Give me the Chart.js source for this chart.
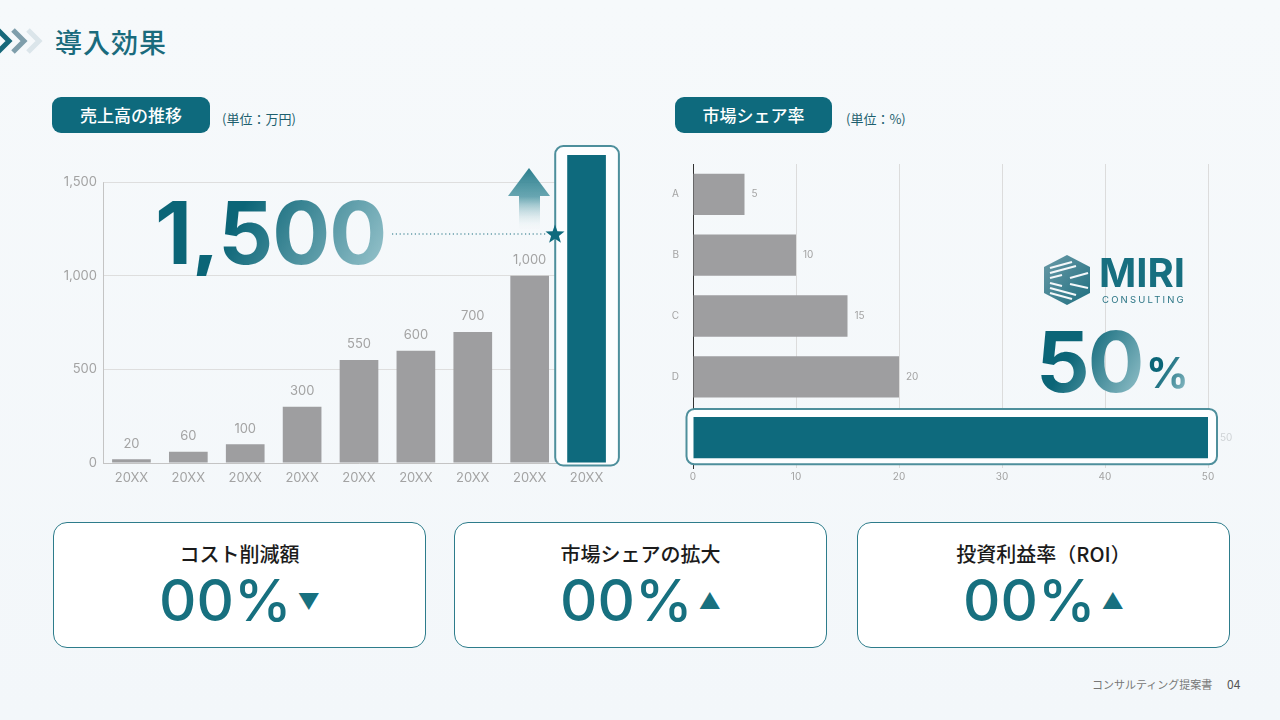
<!DOCTYPE html>
<html lang="ja">
<head>
<meta charset="utf-8">
<title>導入効果</title>
<script src="https://cdn.jsdelivr.net/npm/chart.js@4/dist/chart.umd.min.js"></script>
<style>
  html, body { margin: 0; padding: 0; }
  body {
    width: 1280px; height: 720px; position: relative; overflow: hidden;
    background: linear-gradient(180deg, #f6f9fb 0%, #f3f7fa 100%);
    font-family: "Noto Sans CJK JP", "Noto Sans", sans-serif;
  }
  .abs { position: absolute; }
  .title { left: 55px; top: 22px; font-size: 27px; font-weight: 500; color: #1a6b7d; letter-spacing: 1px; }
  .pill {
    height: 36px; line-height: 36px; border-radius: 9px; background: #0e6a7d;
    color: #fff; font-size: 17px; font-weight: 500; text-align: center;
  }
  .unit { font-size: 13px; color: #1d5f6e; }
  .big {
    font-family: Inter, "Noto Sans", sans-serif; font-weight: 700;
    background: linear-gradient(120deg, #0b6577 35%, #9cc7cf 100%);
    -webkit-background-clip: text; background-clip: text; color: transparent;
    line-height: 1;
  }
  .card {
    background: #fff; border: 1.5px solid #2d7c8b; border-radius: 14px;
    width: 373px; height: 126px; box-sizing: border-box; text-align: center;
  }
  .card .ct { margin-top: 16px; font-size: 20px; font-weight: 500; color: #1b1b1b; }
  .card .cv { font-family: Inter, "Noto Sans", sans-serif; font-size: 58px; font-weight: 500; color: #17707f; line-height: 64px; }
  .card .tri { font-size: 22px; vertical-align: 12px; margin-left: 6px; }
  .foot { font-size: 11px; color: #777; }
</style>
</head>
<body>

<svg class="abs" style="left:0;top:26px" width="46" height="30" viewBox="0 0 46 30">
  <polyline points="-2,4 9,15 -2,26" fill="none" stroke="#17687a" stroke-width="5"/>
  <polyline points="13,4 24,15 13,26" fill="none" stroke="#7f9eab" stroke-width="5"/>
  <polyline points="28,4 39,15 28,26" fill="none" stroke="#dbe5ea" stroke-width="5"/>
</svg>
<div class="abs title">導入効果</div>

<div class="abs pill" style="left:52px;top:97px;width:158px">売上高の推移</div>
<div class="abs unit" style="left:222px;top:109px">(単位：万円)</div>
<div class="abs pill" style="left:675px;top:97px;width:157px">市場シェア率</div>
<div class="abs unit" style="left:846px;top:109px">(単位：%)</div>

<canvas id="sales-chart" class="abs" width="575" height="364" style="left:55px;top:131px"></canvas>
<canvas id="share-chart" class="abs" width="580" height="340" style="left:655px;top:152px"></canvas>

<!-- decorations on the sales chart -->
<div class="abs big" style="left:155px;top:190px;font-size:86px;letter-spacing:-1px">1,500</div>
<svg class="abs" style="left:380px;top:160px" width="190" height="90">
  <defs>
    <linearGradient id="arrowGrad" x1="0" y1="0" x2="0" y2="1">
      <stop offset="0" stop-color="#2b7e8d"/>
      <stop offset="0.45" stop-color="#4f97a4" stop-opacity="0.85"/>
      <stop offset="1" stop-color="#ffffff" stop-opacity="0"/>
    </linearGradient>
  </defs>
  <polygon points="149,8 170,36 160,36 160,72 139,72 139,36 128,36" fill="url(#arrowGrad)"/>
  <line x1="12" y1="74" x2="166" y2="74" stroke="#1c6f80" stroke-width="1.2" stroke-dasharray="1.2 2.6"/>
  <polygon points="175,64.5 177.4,71.3 184.5,71.5 178.9,75.9 180.9,82.7 175,78.7 169.1,82.7 171.1,75.9 165.5,71.5 172.6,71.3" fill="#0e6a7d"/>
</svg>

<!-- logo + 50% -->
<svg class="abs" style="left:1042px;top:254px" width="50" height="52" viewBox="0 0 50 52">
  <defs>
    <linearGradient id="logoGrad" x1="0" y1="0" x2="1" y2="1">
      <stop offset="0" stop-color="#6a9aa7"/>
      <stop offset="1" stop-color="#1f6f80"/>
    </linearGradient>
  </defs>
  <polygon points="25,1 48,13 48,39 25,51 2,39 2,13" fill="url(#logoGrad)"/>
  <g stroke="#f4f8fa" stroke-width="2.2">
    <line x1="8" y1="14" x2="30" y2="8"/>
    <line x1="8" y1="19" x2="34" y2="12"/>
    <line x1="8" y1="24" x2="20" y2="21"/>
    <line x1="8" y1="29" x2="20" y2="32"/>
    <line x1="8" y1="34" x2="34" y2="41"/>
    <line x1="8" y1="39" x2="30" y2="45"/>
    <line x1="28" y1="24" x2="46" y2="19"/>
    <line x1="28" y1="30" x2="46" y2="34"/>
  </g>
</svg>
<div class="abs" style="left:1099px;top:253px;font-family:Inter,sans-serif;font-weight:700;font-size:40px;line-height:1;color:#176f80">MIRI</div>
<div class="abs" style="left:1102px;top:295px;font-family:Inter,sans-serif;font-size:9.5px;line-height:1;color:#2b7585;letter-spacing:2.2px">CONSULTING</div>
<div class="abs big" style="left:1036px;top:320px;font-size:84px;letter-spacing:-2px">50</div>
<div class="abs big" style="left:1146px;top:352px;font-size:42px">%</div>

<!-- KPI cards -->
<div class="abs card" style="left:53px;top:522px">
  <div class="ct">コスト削減額</div>
  <div class="cv">00%<span class="tri">▼</span></div>
</div>
<div class="abs card" style="left:454px;top:522px">
  <div class="ct">市場シェアの拡大</div>
  <div class="cv">00%<span class="tri">▲</span></div>
</div>
<div class="abs card" style="left:857px;top:522px">
  <div class="ct">投資利益率（ROI）</div>
  <div class="cv">00%<span class="tri">▲</span></div>
</div>

<div class="abs foot" style="left:1092px;top:676px">コンサルティング提案書</div>
<div class="abs foot" style="left:1227px;top:675px;font-size:12px;color:#555">04</div>

<script>
// ── Data ────────────────────────────────────────────────────────────────────
const salesLabels = ['20XX', '20XX', '20XX', '20XX', '20XX', '20XX', '20XX', '20XX', '20XX'];
const salesValues = [20, 60, 100, 300, 550, 600, 700, 1000, 1645];
const salesTicks  = [0, 500, 1000, 1500];

const shareLabels = ['A', 'B', 'C', 'D', ''];
const shareValues = [5, 10, 15, 20, 50];
const shareTicks  = [0, 10, 20, 30, 40, 50];

const TEAL = '#0e6a7d';
const GRAY_BAR = '#9e9ea0';
const TICK = '#a3a3a3';

Chart.defaults.font.family = 'Inter, "Noto Sans", sans-serif';
Chart.defaults.animation = false;

// rounded highlight frame drawn behind the last bar
function drawFrame(ctx, x, y, w, h, r) {
  ctx.save();
  ctx.beginPath();
  ctx.roundRect(x, y, w, h, r);
  ctx.fillStyle = '#fdfeff';
  ctx.fill();
  ctx.lineWidth = 2;
  ctx.strokeStyle = '#4e8f9c';
  ctx.stroke();
  ctx.restore();
}

// ── Sales chart ─────────────────────────────────────────────────────────────
const salesPlugin = {
  id: 'salesDeco',
  beforeDatasetsDraw(chart) {
    const { ctx } = chart;
    const bar = chart.getDatasetMeta(0).data[salesValues.length - 1];
    const half = bar.width / 2;
    drawFrame(ctx, bar.x - half - 12, bar.y - 9, bar.width + 25, bar.base - bar.y + 12, 8);
    // y axis line only up to the top tick
    const y = chart.scales.y;
    ctx.save();
    ctx.strokeStyle = '#c4c4c4';
    ctx.lineWidth = 1;
    ctx.beginPath();
    ctx.moveTo(chart.chartArea.left + 0.5, y.getPixelForValue(1500));
    ctx.lineTo(chart.chartArea.left + 0.5, y.getPixelForValue(0));
    ctx.stroke();
    ctx.restore();
  },
  afterDatasetsDraw(chart) {
    const { ctx } = chart;
    ctx.save();
    ctx.font = '13px Inter, "Noto Sans", sans-serif';
    ctx.fillStyle = TICK;
    ctx.textAlign = 'center';
    ctx.textBaseline = 'bottom';
    chart.getDatasetMeta(0).data.forEach((bar, i) => {
      if (i === salesValues.length - 1) return;
      ctx.fillText(salesValues[i].toLocaleString('en-US'), bar.x, bar.y - 9);
    });
    ctx.restore();
  },
};

new Chart(document.getElementById('sales-chart'), {
  type: 'bar',
  data: {
    labels: salesLabels,
    datasets: [{
      data: salesValues,
      backgroundColor: salesValues.map((v, i) => i === salesValues.length - 1 ? TEAL : GRAY_BAR),
      barPercentage: 0.68,
      categoryPercentage: 1,
    }],
  },
  options: {
    responsive: false,
    layout: { padding: { top: 4, right: 15, left: 0, bottom: 0 } },
    plugins: { legend: { display: false }, tooltip: { enabled: false } },
    scales: {
      y: {
        min: 0,
        max: 1700,
        afterBuildTicks: s => { s.ticks = salesTicks.map(v => ({ value: v })); },
        afterFit: s => { s.width = 48; },
        ticks: { color: TICK, font: { size: 13 }, padding: 6, callback: v => v.toLocaleString('en-US') },
        grid: { color: '#dedede', drawTicks: false },
        border: { display: false },
      },
      x: {
        afterFit: s => { s.height = 32; },
        ticks: { color: TICK, font: { size: 13 }, padding: 7, maxRotation: 0 },
        grid: { display: false, drawTicks: false },
        border: { color: '#c4c4c4' },
      },
    },
  },
  plugins: [salesPlugin],
});

// ── Market share chart ──────────────────────────────────────────────────────
const sharePlugin = {
  id: 'shareDeco',
  beforeDatasetsDraw(chart) {
    const bar = chart.getDatasetMeta(0).data[shareValues.length - 1];
    const half = bar.height / 2;
    drawFrame(chart.ctx, bar.base - 7, bar.y - half - 8, bar.x - bar.base + 16, bar.height + 14, 8);
  },
  afterDatasetsDraw(chart) {
    const { ctx } = chart;
    ctx.save();
    ctx.font = '10px Inter, "Noto Sans", sans-serif';
    ctx.textAlign = 'left';
    ctx.textBaseline = 'middle';
    chart.getDatasetMeta(0).data.forEach((bar, i) => {
      ctx.fillStyle = i === shareValues.length - 1 ? '#cfd3d6' : TICK;
      ctx.fillText(String(shareValues[i]), bar.x + (i === shareValues.length - 1 ? 12 : 7), bar.y);
    });
    ctx.restore();
  },
};

new Chart(document.getElementById('share-chart'), {
  type: 'bar',
  data: {
    labels: shareLabels,
    datasets: [{
      data: shareValues,
      backgroundColor: shareValues.map((v, i) => i === shareValues.length - 1 ? TEAL : GRAY_BAR),
      barPercentage: 0.68,
      categoryPercentage: 1,
    }],
  },
  options: {
    responsive: false,
    indexAxis: 'y',
    layout: { padding: { top: 11, right: 27, left: 0, bottom: 0 } },
    plugins: { legend: { display: false }, tooltip: { enabled: false } },
    scales: {
      x: {
        min: 0,
        max: 50,
        afterBuildTicks: s => { s.ticks = shareTicks.map(v => ({ value: v })); },
        afterFit: s => { s.height = 24; },
        ticks: { color: TICK, font: { size: 10 }, padding: 3 },
        grid: { color: '#dcdcdc', drawTicks: false },
        border: { display: false },
      },
      y: {
        afterFit: s => { s.width = 38; },
        ticks: { color: TICK, font: { size: 10 }, padding: 6 },
        grid: { display: false },
        border: { color: '#333', width: 1 },
      },
    },
  },
  plugins: [sharePlugin],
});
</script>
</body>
</html>
